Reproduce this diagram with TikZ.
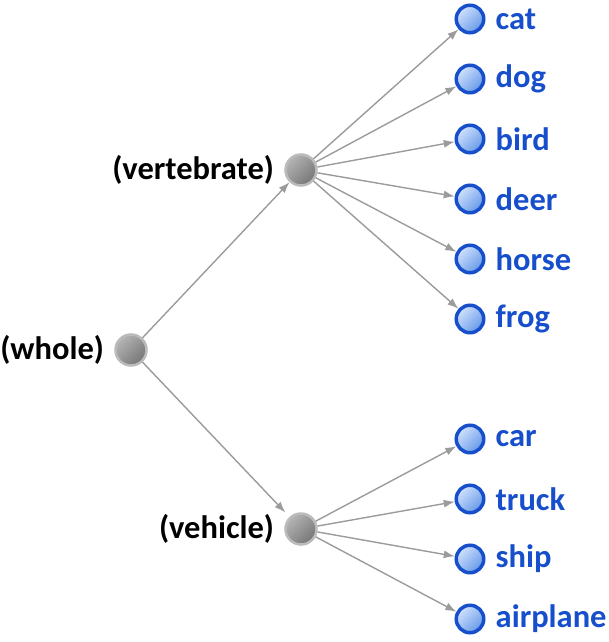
\documentclass[tikz,border=0pt]{standalone}
\usepackage{fontspec}
\setmainfont{Carlito}
\usepackage{xcolor}
\usetikzlibrary{arrows.meta, positioning}
\definecolor{leafblue}{RGB}{22, 78, 204}
\definecolor{leaflight}{RGB}{210, 226, 252}
\definecolor{leafdark}{RGB}{100, 152, 232}
\definecolor{treegray}{RGB}{155, 155, 155}
\definecolor{knotlight}{RGB}{180, 180, 180}
\definecolor{knotdark}{RGB}{118, 118, 118}

\begin{document}
\begin{tikzpicture}[
        x=1pt, y=-1pt,
        knot/.style={circle, minimum size=31pt, inner sep=0pt, line width=2.5pt, draw=knotlight!90, top color=knotlight, bottom color=knotdark, shading angle=45},
        leaf/.style={circle, minimum size=27.5pt, inner sep=0pt, line width=3.5pt, draw=leafblue, top color=leaflight, bottom color=leafdark, shading angle=45},
        knottext/.style={text=black, inner sep=0pt, font=\fontsize{32.5}{38}\selectfont\bfseries},
        leaftext/.style={text=leafblue, inner sep=0pt, font=\fontsize{32.5}{38}\selectfont\bfseries},
        arrow/.style={-{Latex[length=11pt, width=8pt]}, line width=1.4pt, draw=treegray},
        label distance=10pt,
        node distance=29pt
    ]
        \useasboundingbox (0,0) rectangle (608,642);
        \node[knot, label={[knottext]left:(whole)}] (whole) at (131,350) {};
        \node[knot, label={[knottext]left:(vertebrate)}] (vert) at (301,170) {};
        \node[knot, label={[knottext]left:(vehicle)}] (vehicle) at (301,529) {};
        \node[leaf, label={[leaftext]right:cat}] (cat) at (470,19) {};
        \node[leaf, below=of cat, label={[leaftext]right:dog}] (dog) {};
        \node[leaf, below=of dog, label={[leaftext]right:bird}] (bird) {};
        \node[leaf, below=of bird, label={[leaftext]right:deer}] (deer) {};
        \node[leaf, below=of deer, label={[leaftext]right:horse}] (horse) {};
        \node[leaf, below=of horse, label={[leaftext]right:frog}] (frog) {};
        \node[leaf, below=89pt of frog, label={[leaftext]right:car}] (car) {};
        \node[leaf, below=of car, label={[leaftext]right:truck}] (truck) {};
        \node[leaf, below=of truck, label={[leaftext]right:ship}] (ship) {};
        \node[leaf, below=of ship, label={[leaftext]right:airplane}] (airplane) {};
        \draw[arrow] (whole) -- (vert);
        \draw[arrow, shorten >=6pt] (whole) -- (vehicle);
        \draw[arrow] (vert) -- (cat);
        \draw[arrow] (vert) -- (dog);
        \draw[arrow] (vert) -- (bird);
        \draw[arrow] (vert) -- (deer);
        \draw[arrow] (vert) -- (horse);
        \draw[arrow] (vert) -- (frog);
        \draw[arrow] (vehicle) -- (car);
        \draw[arrow] (vehicle) -- (truck);
        \draw[arrow] (vehicle) -- (ship);
        \draw[arrow] (vehicle) -- (airplane);
    \end{tikzpicture}
\end{document}
